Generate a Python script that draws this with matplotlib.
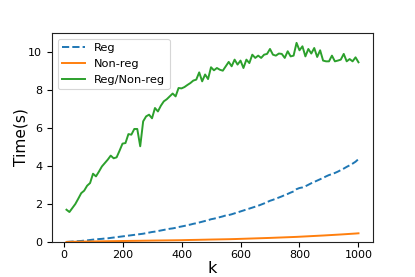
import matplotlib
matplotlib.use("Agg")
import matplotlib.pyplot as plt

k = list(range(10, 1001, 10))

reg = [0.01,0.02,0.03,0.04,0.05,0.06,0.08,0.09,0.11,0.13,
       0.14,0.16,0.17,0.19,0.20,0.22,0.24,0.26,0.28,0.30,
       0.32,0.34,0.36,0.38,0.40,0.42,0.44,0.47,0.50,0.53,
       0.55,0.58,0.61,0.64,0.67,0.70,0.72,0.75,0.79,0.82,
       0.85,0.89,0.92,0.96,0.99,1.03,1.07,1.11,1.15,1.20,
       1.23,1.27,1.31,1.35,1.40,1.42,1.46,1.51,1.56,1.61,
       1.66,1.71,1.76,1.81,1.86,1.91,1.97,2.03,2.10,2.17,
       2.22,2.28,2.34,2.40,2.47,2.53,2.60,2.66,2.78,2.84,
       2.87,2.93,3.01,3.09,3.16,3.23,3.30,3.37,3.45,3.52,
       3.57,3.63,3.70,3.78,3.86,3.95,4.03,4.12,4.22,4.36]

nonreg = [0.006,0.012,0.017,0.020,0.022,0.025,0.028,0.030,0.033,0.036,
          0.038,0.040,0.042,0.045,0.047,0.049,0.051,0.053,0.055,0.058,
          0.060,0.062,0.064,0.066,0.068,0.070,0.073,0.075,0.077,0.080,
          0.082,0.084,0.086,0.088,0.090,0.092,0.094,0.096,0.098,0.100,
          0.104,0.108,0.111,0.114,0.117,0.120,0.124,0.127,0.131,0.134,
          0.137,0.140,0.143,0.146,0.149,0.152,0.156,0.160,0.165,0.170,
          0.175,0.180,0.185,0.190,0.195,0.200,0.205,0.210,0.215,0.220,
          0.226,0.232,0.238,0.244,0.250,0.256,0.262,0.268,0.274,0.282,
          0.290,0.298,0.306,0.314,0.322,0.330,0.338,0.346,0.355,0.364,
          0.373,0.382,0.391,0.400,0.410,0.420,0.430,0.440,0.450,0.462]

ratio = [1.70,1.58,1.79,2.00,2.28,2.57,2.70,2.96,3.10,3.59,
         3.45,3.70,3.97,4.15,4.33,4.54,4.40,4.45,4.80,5.17,
         5.20,5.67,5.64,5.94,5.94,5.03,6.34,6.60,6.69,6.50,
         7.04,6.86,7.16,7.39,7.50,7.65,7.80,7.65,8.09,8.07,
         8.14,8.25,8.35,8.48,8.53,8.91,8.44,8.80,8.56,9.18,
         9.02,9.14,9.05,9.00,9.23,9.46,9.23,9.58,9.32,9.53,
         9.14,9.58,9.40,9.84,9.67,9.79,9.67,9.84,9.88,10.14,
         9.84,9.79,9.90,9.88,9.67,10.02,9.75,9.79,10.46,10.07,
         10.28,9.75,10.14,9.90,10.19,9.72,10.07,9.53,9.49,9.49,
         9.79,9.49,9.53,9.58,9.88,9.49,9.61,9.49,9.70,9.44]

xticks = [0, 200, 400, 600, 800, 1000]
yticks = [0, 2, 4, 6, 8, 10]

fig = plt.figure(figsize=(4.15, 2.77), dpi=100)
ax = fig.add_axes([0.125, 0.126, 0.774, 0.755])

lw = 1.4
ax.plot(k, reg, '--', color='tab:blue', lw=lw, label='Reg')
ax.plot(k, nonreg, '-', color='tab:orange', lw=lw, label='Non-reg')
ax.plot(k, ratio, '-', color='tab:green', lw=lw, label='Reg/Non-reg')

ax.set_ylim(0, 10.98)
ax.set_xticks(xticks)
ax.set_yticks(yticks)
ax.tick_params(labelsize=8, width=0.8, length=3.5)
ax.tick_params(axis='x', pad=2.0)
ax.tick_params(axis='y', pad=3.5)
for s in ax.spines.values():
    s.set_linewidth(0.8)
    s.set_color('#222222')

ax.set_xlabel('k', fontsize=11.5, labelpad=0.8)
ax.set_ylabel('Time(s)', fontsize=11.1, labelpad=-0.4)

leg = ax.legend(loc='upper left', fontsize=8.2, handlelength=2.0)
leg.get_frame().set_linewidth(0.8)

fig.savefig('out.png', dpi=100)
